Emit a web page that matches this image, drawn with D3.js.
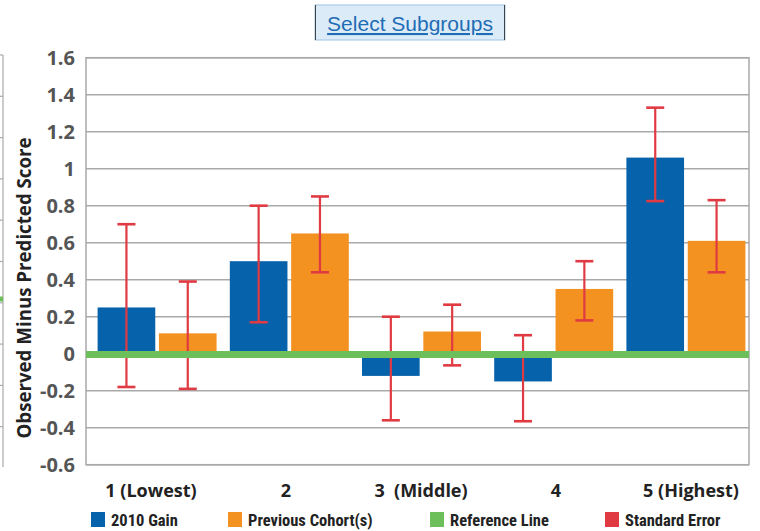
<!DOCTYPE html>
<html>
<head>
<meta charset="utf-8">
<script src="https://cdn.jsdelivr.net/npm/d3@7"></script>
<style>
  html, body { margin: 0; padding: 0; background: #fff; }
  svg { display: block; }
</style>
</head>
<body>
<svg id="chart" width="760" height="531"></svg>
<script>
// ---- data ----
const categories = ["1 (Lowest)", "2", "3\u00a0\u00a0(Middle)", "4", "5 (Highest)"];
const seriesNames = ["2010 Gain", "Previous Cohort(s)"];
const gain2010 = [0.25, 0.50, -0.12, -0.15, 1.06];
const previousCohort = [0.11, 0.65, 0.12, 0.35, 0.61];
const gainErrLow = [-0.18, 0.17, -0.36, -0.365, 0.825];
const gainErrHigh = [0.70, 0.80, 0.20, 0.10, 1.33];
const prevErrLow = [-0.19, 0.44, -0.063, 0.18, 0.44];
const prevErrHigh = [0.39, 0.85, 0.265, 0.50, 0.83];
const yTicks = [-0.6, -0.4, -0.2, 0, 0.2, 0.4, 0.6, 0.8, 1, 1.2, 1.4, 1.6];
const legendItems = ["2010 Gain", "Previous Cohort(s)", "Reference Line", "Standard Error"];
const referenceValue = 0;

// ---- styles ----
const colors = {
  "2010 Gain": "#0562ab",
  "Previous Cohort(s)": "#f39121",
  "Reference Line": "#6cbf5b",
  "Standard Error": "#e03a42"
};

const svg = d3.select("#chart");
const plot = { left: 86, right: 749, top: 57.7, bottom: 464.7 };

const y = d3.scaleLinear().domain([-0.6, 1.6]).range([plot.bottom, plot.top]);
const x0 = d3.scaleBand().domain(categories).range([91, 752]).paddingInner(0.1).paddingOuter(0.05);
const x1 = d3.scaleBand().domain(seriesNames).range([0, x0.bandwidth()]).paddingInner(0.06);
const xLabel = d3.scalePoint().domain(categories).range([151, 691]);

const rows = categories.map((c, i) => ({
  cat: c,
  vals: [
    { s: seriesNames[0], v: gain2010[i], lo: gainErrLow[i], hi: gainErrHigh[i] },
    { s: seriesNames[1], v: previousCohort[i], lo: prevErrLow[i], hi: prevErrHigh[i] }
  ]
}));

// partial neighbouring frame on far left
const leftFrame = svg.append("g");
leftFrame.append("line").attr("x1", 3).attr("x2", 3).attr("y1", 55).attr("y2", 467)
  .attr("stroke", "#aaa").attr("stroke-width", 1.2);
d3.range(10).forEach(i => {
  leftFrame.append("line").attr("x1", 0).attr("x2", 3)
    .attr("y1", 55 + i * 41.3).attr("y2", 55 + i * 41.3)
    .attr("stroke", "#aaa").attr("stroke-width", 1.2);
});
leftFrame.append("line").attr("x1", 0).attr("x2", 3).attr("y1", 299).attr("y2", 299)
  .attr("stroke", colors["Reference Line"]).attr("stroke-width", 5);

// gridlines
svg.append("g").selectAll("line").data(yTicks).join("line")
  .attr("x1", plot.left).attr("x2", plot.right)
  .attr("y1", d => y(d)).attr("y2", d => y(d))
  .attr("stroke", "#a9a9a9").attr("stroke-width", 1.5);

// frame
svg.append("rect")
  .attr("x", plot.left).attr("y", plot.top)
  .attr("width", plot.right - plot.left).attr("height", plot.bottom - plot.top)
  .attr("fill", "none").attr("stroke", "#a9a9a9").attr("stroke-width", 1.5);

// y tick labels
svg.append("g").selectAll("text").data(yTicks).join("text")
  .attr("x", 75).attr("y", d => y(d)).attr("dy", "0.36em")
  .attr("text-anchor", "end")
  .attr("font-family", "'Open Sans', sans-serif").attr("font-weight", 700)
  .attr("font-size", 20).attr("fill", "#555")
  .text(d => String(d));

// y title
svg.append("text")
  .attr("transform", `translate(31, 288) rotate(-90)`)
  .attr("text-anchor", "middle")
  .attr("font-family", "'Open Sans', sans-serif").attr("font-weight", 700)
  .attr("font-size", 18.7).attr("fill", "#222")
  .text("Observed Minus Predicted Score");

// bars
const groups = svg.append("g").selectAll("g").data(rows).join("g")
  .attr("transform", d => `translate(${x0(d.cat)},0)`);

groups.selectAll("rect").data(d => d.vals).join("rect")
  .attr("x", d => x1(d.s))
  .attr("width", x1.bandwidth())
  .attr("y", d => y(Math.max(0, d.v)))
  .attr("height", d => Math.abs(y(d.v) - y(0)))
  .attr("fill", d => colors[d.s]);

// reference line
svg.append("line")
  .attr("x1", plot.left).attr("x2", plot.right)
  .attr("y1", y(referenceValue) + 0.8).attr("y2", y(referenceValue) + 0.8)
  .attr("stroke", colors["Reference Line"]).attr("stroke-width", 7);

// error bars
const eb = groups.selectAll("g.err").data(d => d.vals).join("g").attr("class", "err")
  .attr("stroke", colors["Standard Error"]).attr("stroke-width", 2.2);
eb.append("line")
  .attr("x1", d => x1(d.s) + x1.bandwidth() / 2).attr("x2", d => x1(d.s) + x1.bandwidth() / 2)
  .attr("y1", d => y(d.hi)).attr("y2", d => y(d.lo));
eb.append("line")
  .attr("x1", d => x1(d.s) + x1.bandwidth() / 2 - 9).attr("x2", d => x1(d.s) + x1.bandwidth() / 2 + 9)
  .attr("y1", d => y(d.hi)).attr("y2", d => y(d.hi)).attr("stroke-width", 2.6);
eb.append("line")
  .attr("x1", d => x1(d.s) + x1.bandwidth() / 2 - 9).attr("x2", d => x1(d.s) + x1.bandwidth() / 2 + 9)
  .attr("y1", d => y(d.lo)).attr("y2", d => y(d.lo)).attr("stroke-width", 2.6);

// x category labels
svg.append("g").selectAll("text").data(categories).join("text")
  .attr("x", d => xLabel(d))
  .attr("y", 497)
  .attr("text-anchor", "middle")
  .attr("font-family", "'Open Sans', sans-serif").attr("font-weight", 700)
  .attr("font-size", 18).attr("fill", "#222")
  .text(d => d);

// legend
const legendX = [91, 228, 430, 605];
const lg = svg.append("g").selectAll("g").data(legendItems).join("g")
  .attr("transform", (d, i) => `translate(${legendX[i]}, 512)`);
lg.append("rect").attr("width", 14).attr("height", 15).attr("fill", d => colors[d]);
lg.append("text").attr("x", 20).attr("y", 14)
  .attr("font-family", "'Liberation Sans Narrow', 'Roboto Condensed', 'Liberation Sans', sans-serif")
  .attr("font-weight", 700).attr("font-size", 16.5).attr("fill", "#222")
  .text(d => d);

// button
const btn = svg.append("g");
btn.append("rect").attr("x", 315).attr("y", 5).attr("width", 190).attr("height", 35)
  .attr("fill", "#dcebf8").attr("stroke", "#9dc3e6").attr("stroke-width", 1);
btn.append("line").attr("x1", 315.5).attr("x2", 315.5).attr("y1", 5).attr("y2", 40)
  .attr("stroke", "#444").attr("stroke-width", 1);
btn.append("line").attr("x1", 504.5).attr("x2", 504.5).attr("y1", 5).attr("y2", 40)
  .attr("stroke", "#444").attr("stroke-width", 1);
btn.append("text").attr("x", 410).attr("y", 31)
  .attr("text-anchor", "middle")
  .attr("font-family", "'Liberation Sans', Arial, sans-serif")
  .attr("font-size", 21).attr("fill", "#1f6db5")
  .attr("text-decoration", "underline")
  .text("Select Subgroups");
</script>
</body>
</html>
